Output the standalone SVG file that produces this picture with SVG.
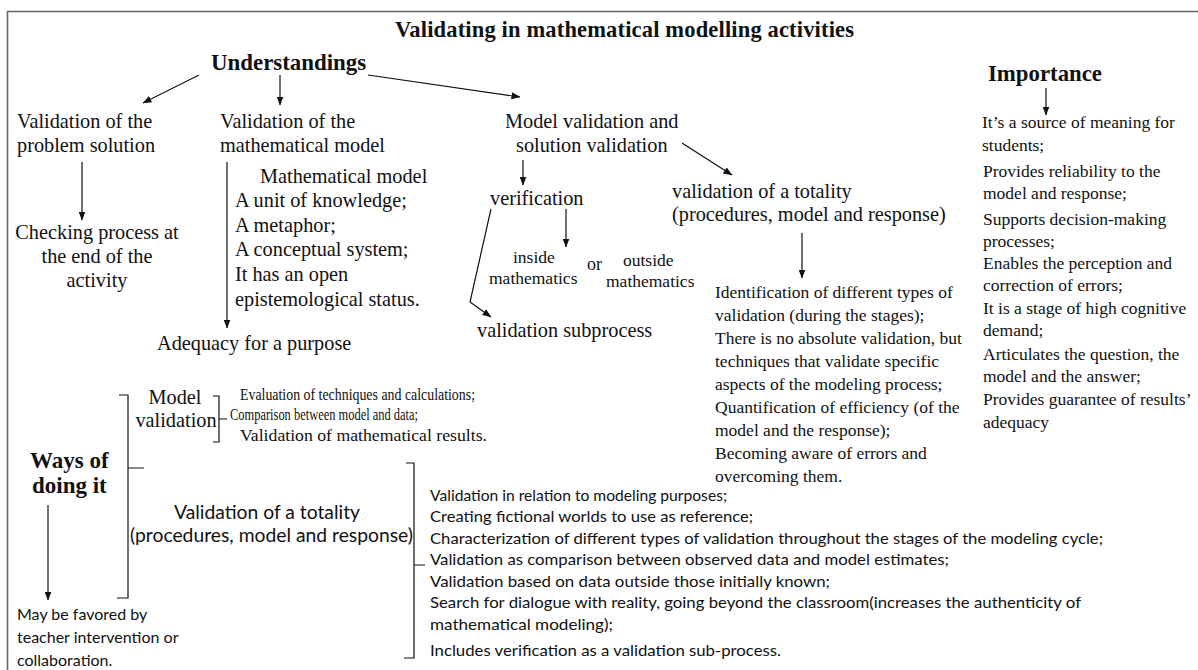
<svg xmlns="http://www.w3.org/2000/svg" width="1198" height="670" viewBox="0 0 1198 670">
<defs>
<marker id="ah" markerWidth="9" markerHeight="7" refX="8.5" refY="3.5" orient="auto" markerUnits="userSpaceOnUse"><path d="M0,0 L9,3.5 L0,7 z" fill="#111"/></marker>
</defs>
<style>
.serif20{font-family:"Liberation Serif","Times New Roman",serif;font-size:20.3px;fill:#111}
.serif17{font-family:"Liberation Serif","Times New Roman",serif;font-size:17.5px;fill:#111}
.serifb{font-family:"Liberation Serif","Times New Roman",serif;font-weight:bold;fill:#111}
.serifc{font-family:"Liberation Serif","Times New Roman",serif;font-size:17.5px;fill:#111}
.sans{font-family:Lato,"Liberation Sans",sans-serif;fill:#111}
.line{stroke:#111;stroke-width:1.2;fill:none}
.arrow{stroke:#111;stroke-width:1.2;fill:none;marker-end:url(#ah)}
</style>
<rect width="1198" height="670" fill="#fff"/>
<path d="M7.5,670 V11.5 H1198" stroke="#666" stroke-width="1.6" fill="none"/>

<g id="title"><text class="serifb" x="624.5" y="37" text-anchor="middle" font-size="22.5" textLength="459">Validating in mathematical modelling activities</text></g>
<g id="understandings"><text class="serifb" x="211" y="70" font-size="22.9">Understandings</text></g>
<g id="importance"><text class="serifb" x="988" y="81" font-size="22.8">Importance</text></g>

<g id="connectors">
<path class="arrow" d="M199,75 L143,103"/>
<path class="arrow" d="M280,75 L280,105"/>
<path class="arrow" d="M368,75 L520,97"/>
<path class="arrow" d="M82,162 L82,220"/>
<path class="arrow" d="M227,162 L227,328"/>
<path class="arrow" d="M523,160 L523,185"/>
<path class="arrow" d="M682,143 L732,175"/>
<path class="arrow" d="M566,209 L566,247"/>
<path class="arrow" d="M491,209 L470,302 L491,317"/>
<path class="arrow" d="M802,233 L802,278"/>
<path class="arrow" d="M1046,88 L1046,115"/>
<path class="arrow" d="M48,505 L48,600"/>
<path class="line" d="M213,396 H219 V442 H213 M219,419 H227"/>
<path class="line" d="M119,395 H128 V598 H117 M128,468 H144"/>
<path class="line" d="M406,463 H414 V658 H404 M414,565 H425"/>
</g>

<g id="col1" class="serif20">
<text x="17" y="128">Validation of the</text>
<text x="17" y="152">problem solution</text>
</g>
<g id="checking" class="serif20" text-anchor="middle">
<text x="97" y="239">Checking process at</text>
<text x="97" y="263">the end of the</text>
<text x="97" y="287">activity</text>
</g>

<g id="col2" class="serif20">
<text x="220" y="128">Validation of the</text>
<text x="220" y="152">mathematical model</text>
</g>
<g id="mathmodel" class="serif20">
<text x="260" y="183">Mathematical model</text>
<text x="235" y="207">A unit of knowledge;</text>
<text x="235" y="232">A metaphor;</text>
<text x="235" y="256">A conceptual system;</text>
<text x="235" y="281">It has an open</text>
<text x="235" y="306">epistemological status.</text>
</g>
<g id="adequacy" class="serif20"><text x="157" y="350">Adequacy for a purpose</text></g>

<g id="col3" class="serif20">
<text x="505" y="128">Model validation and</text>
<text x="516" y="152">solution validation</text>
</g>
<g id="verification" class="serif20"><text x="490" y="205">verification</text></g>
<g id="inside" class="serif17">
<text x="513" y="263">inside</text>
<text x="489" y="284">mathematics</text>
</g>
<g id="or" class="serif17"><text x="587" y="270" font-size="18">or</text></g>
<g id="outside" class="serif17">
<text x="623" y="266">outside</text>
<text x="606" y="287">mathematics</text>
</g>
<g id="subprocess" class="serif20"><text x="477" y="337">validation subprocess</text></g>

<g id="totality" class="serif20">
<text x="672" y="198">validation of a totality</text>
<text x="672" y="221">(procedures, model and response)</text>
</g>
<g id="identification" class="serif17">
<text x="715" y="298">Identification of different types of</text>
<text x="715" y="321">validation (during the stages);</text>
<text x="715" y="344">There is no absolute validation, but</text>
<text x="715" y="367">techniques that validate specific</text>
<text x="715" y="390">aspects of the modeling process;</text>
<text x="715" y="413">Quantification of efficiency (of the</text>
<text x="715" y="436">model and the response);</text>
<text x="715" y="459">Becoming aware of errors and</text>
<text x="715" y="482">overcoming them.</text>
</g>

<g id="importance-list" class="serif17">
<text x="982" y="128">It’s a source of meaning for</text>
<text x="982" y="151">students;</text>
<text x="983" y="177">Provides reliability to the</text>
<text x="983" y="199">model and response;</text>
<text x="983" y="225">Supports decision-making</text>
<text x="983" y="247">processes;</text>
<text x="983" y="269">Enables the perception and</text>
<text x="983" y="291">correction of errors;</text>
<text x="983" y="314">It is a stage of high cognitive</text>
<text x="983" y="336">demand;</text>
<text x="983" y="360">Articulates the question, the</text>
<text x="983" y="382">model and the answer;</text>
<text x="983" y="405">Provides guarantee of results’</text>
<text x="983" y="428">adequacy</text>
</g>

<g id="ways" class="serifb" font-size="23">
<text x="30" y="468">Ways of</text>
<text x="32" y="493">doing it</text>
</g>
<g id="model-validation" class="serif20" text-anchor="middle">
<text x="175" y="404">Model</text>
<text x="176" y="427">validation</text>
</g>
<g id="model-validation-list" class="serifc">
<text x="240" y="400" textLength="235" lengthAdjust="spacingAndGlyphs">Evaluation of techniques and calculations;</text>
<text x="230" y="420" textLength="188" lengthAdjust="spacingAndGlyphs">Comparison between model and data;</text>
<text x="240" y="441" textLength="247" lengthAdjust="spacingAndGlyphs">Validation of mathematical results.</text>
</g>
<g id="totality-ways" class="sans" font-size="18.5">
<text x="174" y="519" textLength="186" lengthAdjust="spacingAndGlyphs">Validation of a totality</text>
<text x="130" y="542" textLength="283" lengthAdjust="spacingAndGlyphs">(procedures, model and response)</text>
</g>
<g id="totality-list" class="sans" font-size="15">
<text x="430" y="501" textLength="297" lengthAdjust="spacingAndGlyphs">Validation in relation to modeling purposes;</text>
<text x="430" y="522" textLength="323" lengthAdjust="spacingAndGlyphs">Creating fictional worlds to use as reference;</text>
<text x="430" y="544" textLength="673" lengthAdjust="spacingAndGlyphs">Characterization of different types of validation throughout the stages of the modeling cycle;</text>
<text x="430" y="565" textLength="519" lengthAdjust="spacingAndGlyphs">Validation as comparison between observed data and model estimates;</text>
<text x="430" y="587" textLength="400" lengthAdjust="spacingAndGlyphs">Validation based on data outside those initially known;</text>
<text x="430" y="608" textLength="651" lengthAdjust="spacingAndGlyphs">Search for dialogue with reality, going beyond the classroom(increases the authenticity of</text>
<text x="430" y="630" textLength="183" lengthAdjust="spacingAndGlyphs">mathematical modeling);</text>
<text x="430" y="656" textLength="351" lengthAdjust="spacingAndGlyphs">Includes verification as a validation sub-process.</text>
</g>
<g id="favored" class="sans" font-size="16">
<text x="17" y="620">May be favored by</text>
<text x="17" y="643">teacher intervention or</text>
<text x="17" y="666">collaboration.</text>
</g>
</svg>
